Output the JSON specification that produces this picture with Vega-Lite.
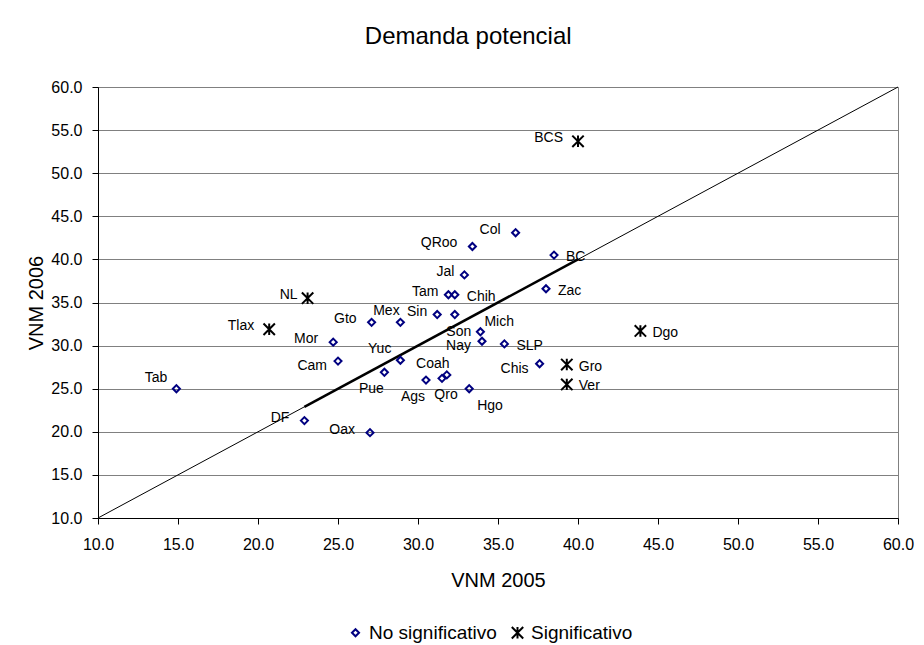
{
  "$schema": "https://vega.github.io/schema/vega-lite/v6.json",
  "width": 800,
  "height": 431,
  "autosize": {"type": "none"},
  "padding": {"left": 98, "top": 87, "right": 26, "bottom": 127},
  "background": "white",
  "title": {"text": "Demanda potencial", "fontSize": 24, "font": "Liberation Sans", "fontWeight": "normal", "color": "black", "anchor": "middle", "frame": "bounds", "offset": 30, "dx": -2},
  "config": {
    "font": "Liberation Sans",
    "view": {"stroke": "#808080", "strokeWidth": 1},
    "text": {"font": "Liberation Sans", "fontSize": 14, "color": "black", "baseline": "middle"}
  },
  "datasets": {
    "estados": [
      {"estado": "Tab", "vnm2005": 14.9, "vnm2006": 25.0, "tipo": "No significativo"},
      {"estado": "DF", "vnm2005": 22.9, "vnm2006": 21.3, "tipo": "No significativo"},
      {"estado": "Tlax", "vnm2005": 20.7, "vnm2006": 31.9, "tipo": "Significativo"},
      {"estado": "NL", "vnm2005": 23.1, "vnm2006": 35.5, "tipo": "Significativo"},
      {"estado": "Mor", "vnm2005": 24.7, "vnm2006": 30.4, "tipo": "No significativo"},
      {"estado": "Cam", "vnm2005": 25.0, "vnm2006": 28.2, "tipo": "No significativo"},
      {"estado": "Gto", "vnm2005": 27.1, "vnm2006": 32.7, "tipo": "No significativo"},
      {"estado": "Mex", "vnm2005": 28.9, "vnm2006": 32.7, "tipo": "No significativo"},
      {"estado": "Oax", "vnm2005": 27.0, "vnm2006": 19.9, "tipo": "No significativo"},
      {"estado": "Yuc", "vnm2005": 28.9, "vnm2006": 28.3, "tipo": "No significativo"},
      {"estado": "Pue", "vnm2005": 27.9, "vnm2006": 26.9, "tipo": "No significativo"},
      {"estado": "Ags", "vnm2005": 30.5, "vnm2006": 26.0, "tipo": "No significativo"},
      {"estado": "Qro", "vnm2005": 31.5, "vnm2006": 26.2, "tipo": "No significativo"},
      {"estado": "Coah", "vnm2005": 31.8, "vnm2006": 26.6, "tipo": "No significativo"},
      {"estado": "Hgo", "vnm2005": 33.2, "vnm2006": 25.0, "tipo": "No significativo"},
      {"estado": "Sin", "vnm2005": 31.2, "vnm2006": 33.6, "tipo": "No significativo"},
      {"estado": "Son", "vnm2005": 32.3, "vnm2006": 33.6, "tipo": "No significativo"},
      {"estado": "Mich", "vnm2005": 33.9, "vnm2006": 31.6, "tipo": "No significativo"},
      {"estado": "Nay", "vnm2005": 34.0, "vnm2006": 30.5, "tipo": "No significativo"},
      {"estado": "SLP", "vnm2005": 35.4, "vnm2006": 30.2, "tipo": "No significativo"},
      {"estado": "Chis", "vnm2005": 37.6, "vnm2006": 27.9, "tipo": "No significativo"},
      {"estado": "Gro", "vnm2005": 39.3, "vnm2006": 27.8, "tipo": "Significativo"},
      {"estado": "Ver", "vnm2005": 39.3, "vnm2006": 25.5, "tipo": "Significativo"},
      {"estado": "Dgo", "vnm2005": 43.9, "vnm2006": 31.7, "tipo": "Significativo"},
      {"estado": "Zac", "vnm2005": 38.0, "vnm2006": 36.6, "tipo": "No significativo"},
      {"estado": "BC", "vnm2005": 38.5, "vnm2006": 40.5, "tipo": "No significativo"},
      {"estado": "Jal", "vnm2005": 32.9, "vnm2006": 38.2, "tipo": "No significativo"},
      {"estado": "Tam", "vnm2005": 31.9, "vnm2006": 35.9, "tipo": "No significativo"},
      {"estado": "Chih", "vnm2005": 32.3, "vnm2006": 35.9, "tipo": "No significativo"},
      {"estado": "QRoo", "vnm2005": 33.4, "vnm2006": 41.5, "tipo": "No significativo"},
      {"estado": "Col", "vnm2005": 36.1, "vnm2006": 43.1, "tipo": "No significativo"},
      {"estado": "BCS", "vnm2005": 40.0, "vnm2006": 53.7, "tipo": "Significativo"}
    ],
    "diagonal": [{"v": 10}, {"v": 60}],
    "tramo": [{"v": 22.9}, {"v": 40.0}]
  },
  "layer": [
    {
      "data": {"name": "diagonal"},
      "mark": {"type": "line", "color": "black", "strokeWidth": 1},
      "encoding": {
        "x": {
          "field": "v", "type": "quantitative",
          "scale": {"domain": [10, 60], "nice": false, "zero": false},
          "axis": {
            "title": "VNM 2005", "values": [10, 15, 20, 25, 30, 35, 40, 45, 50, 55, 60], "format": ".1f",
            "grid": false, "domainColor": "black", "tickColor": "black", "tickSize": 6,
            "labelFontSize": 16, "labelColor": "black", "labelPadding": 12, "labelFlush": false,
            "titleFontSize": 20, "titleFontWeight": "normal", "titleColor": "black", "titlePadding": 18
          }
        },
        "y": {
          "field": "v", "type": "quantitative",
          "scale": {"domain": [10, 60], "nice": false, "zero": false},
          "axis": {
            "title": "VNM 2006", "values": [10, 15, 20, 25, 30, 35, 40, 45, 50, 55, 60], "format": ".1f",
            "grid": true, "gridColor": "#808080", "gridOpacity": 1,
            "domainColor": "black", "tickColor": "black", "tickSize": 6,
            "labelFontSize": 16, "labelColor": "black", "labelPadding": 10, "labelFlush": false,
            "titleFontSize": 20, "titleFontWeight": "normal", "titleColor": "black", "titlePadding": 4
          }
        }
      }
    },
    {
      "data": {"name": "tramo"},
      "mark": {"type": "line", "color": "black", "strokeWidth": 2.5},
      "encoding": {
        "x": {"field": "v", "type": "quantitative"},
        "y": {"field": "v", "type": "quantitative"}
      }
    },
    {
      "data": {"name": "estados"},
      "mark": {"type": "point", "filled": false, "strokeWidth": 2, "opacity": 1},
      "encoding": {
        "x": {"field": "vnm2005", "type": "quantitative"},
        "y": {"field": "vnm2006", "type": "quantitative"},
        "shape": {
          "field": "tipo", "type": "nominal",
          "scale": {"domain": ["No significativo", "Significativo"], "range": ["diamond", "M-1,-1L1,1M-1,1L1,-1M0,-1L0,1"]},
          "legend": {"orient": "none", "legendX": 248, "legendY": 536, "direction": "horizontal", "title": null,
            "labelFontSize": 19, "labelFont": "Liberation Sans", "labelColor": "black", "symbolStrokeWidth": 2,
            "columnPadding": 10, "labelOffset": 4}
        },
        "stroke": {
          "field": "tipo", "type": "nominal",
          "scale": {"domain": ["No significativo", "Significativo"], "range": ["#000080", "#000000"]}
        },
        "size": {
          "field": "tipo", "type": "nominal",
          "scale": {"domain": ["No significativo", "Significativo"], "range": [50, 130]}
        }
      }
    },
    {
      "data": {"name": "estados"},
      "transform": [{"filter": "indexof(['Tlax','Gto','QRoo','BCS','Oax','Col','Mor','DF'], datum.estado) >= 0"}],
      "mark": {"type": "text", "align": "right", "dx": -15, "dy": -3},
      "encoding": {"x": {"field": "vnm2005", "type": "quantitative"}, "y": {"field": "vnm2006", "type": "quantitative"}, "text": {"field": "estado"}}
    },
    {
      "data": {"name": "estados"},
      "transform": [{"filter": "indexof(['NL','Sin','Jal','Tam'], datum.estado) >= 0"}],
      "mark": {"type": "text", "align": "right", "dx": -10, "dy": -3},
      "encoding": {"x": {"field": "vnm2005", "type": "quantitative"}, "y": {"field": "vnm2006", "type": "quantitative"}, "text": {"field": "estado"}}
    },
    {
      "data": {"name": "estados"},
      "transform": [{"filter": "indexof(['Cam','Nay','Chis'], datum.estado) >= 0"}],
      "mark": {"type": "text", "align": "right", "dx": -11, "dy": 5},
      "encoding": {"x": {"field": "vnm2005", "type": "quantitative"}, "y": {"field": "vnm2006", "type": "quantitative"}, "text": {"field": "estado"}}
    },
    {
      "data": {"name": "estados"},
      "transform": [{"filter": "indexof(['Tab','Yuc'], datum.estado) >= 0"}],
      "mark": {"type": "text", "align": "right", "dx": -9, "dy": -11},
      "encoding": {"x": {"field": "vnm2005", "type": "quantitative"}, "y": {"field": "vnm2006", "type": "quantitative"}, "text": {"field": "estado"}}
    },
    {
      "data": {"name": "estados"},
      "transform": [{"filter": "indexof(['Mex','Coah'], datum.estado) >= 0"}],
      "mark": {"type": "text", "align": "center", "dx": -14, "dy": -11},
      "encoding": {"x": {"field": "vnm2005", "type": "quantitative"}, "y": {"field": "vnm2006", "type": "quantitative"}, "text": {"field": "estado"}}
    },
    {
      "data": {"name": "estados"},
      "transform": [{"filter": "indexof(['SLP','Gro','Ver','Dgo','Chih','Zac','BC'], datum.estado) >= 0"}],
      "mark": {"type": "text", "align": "left", "dx": 12, "dy": 2},
      "encoding": {"x": {"field": "vnm2005", "type": "quantitative"}, "y": {"field": "vnm2006", "type": "quantitative"}, "text": {"field": "estado"}}
    },
    {
      "data": {"name": "estados"},
      "transform": [{"filter": "datum.estado == 'Mich'"}],
      "mark": {"type": "text", "align": "left", "dx": 4, "dy": -10},
      "encoding": {"x": {"field": "vnm2005", "type": "quantitative"}, "y": {"field": "vnm2006", "type": "quantitative"}, "text": {"field": "estado"}}
    },
    {
      "data": {"name": "estados"},
      "transform": [{"filter": "indexof(['Son','Qro'], datum.estado) >= 0"}],
      "mark": {"type": "text", "align": "center", "dx": 4, "dy": 17},
      "encoding": {"x": {"field": "vnm2005", "type": "quantitative"}, "y": {"field": "vnm2006", "type": "quantitative"}, "text": {"field": "estado"}}
    },
    {
      "data": {"name": "estados"},
      "transform": [{"filter": "indexof(['Pue','Ags'], datum.estado) >= 0"}],
      "mark": {"type": "text", "align": "center", "dx": -13, "dy": 17},
      "encoding": {"x": {"field": "vnm2005", "type": "quantitative"}, "y": {"field": "vnm2006", "type": "quantitative"}, "text": {"field": "estado"}}
    },
    {
      "data": {"name": "estados"},
      "transform": [{"filter": "datum.estado == 'Hgo'"}],
      "mark": {"type": "text", "align": "left", "dx": 8, "dy": 17},
      "encoding": {"x": {"field": "vnm2005", "type": "quantitative"}, "y": {"field": "vnm2006", "type": "quantitative"}, "text": {"field": "estado"}}
    }
  ]
}
